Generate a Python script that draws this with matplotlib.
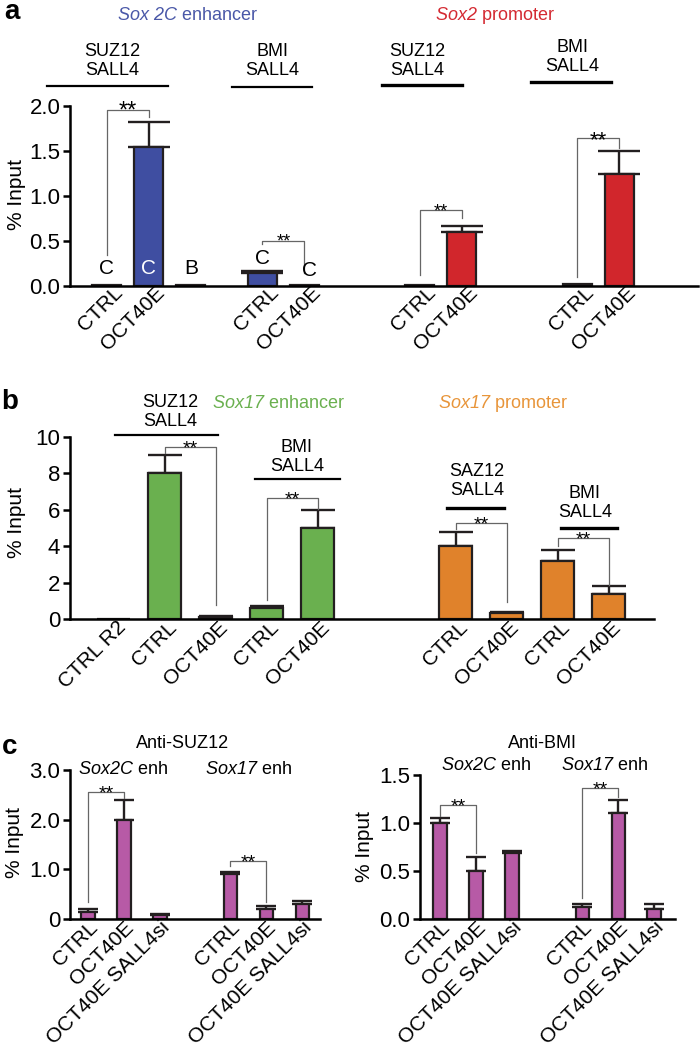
import numpy as np
import matplotlib
matplotlib.use("Agg")
import matplotlib.pyplot as plt
from matplotlib.lines import Line2D

plt.rcParams['font.family'] = ['Liberation Sans', 'DejaVu Sans']
# math text is only used for the italic gene names, so make "rm" italic (digits too)
plt.rcParams['mathtext.fontset'] = 'custom'
plt.rcParams['mathtext.rm'] = 'Liberation Sans:italic'
plt.rcParams['mathtext.it'] = 'Liberation Sans:italic'
plt.rcParams['mathtext.default'] = 'rm'

# ---- data ----
# panel a: Sox2C enhancer (SUZ12, BMI) + Sox2 promoter (SUZ12, BMI)
a_labels = ["CTRL", "OCT40E", "", "CTRL", "OCT40E", "CTRL", "OCT40E", "CTRL", "OCT40E"]
a_values = [0.01, 1.55, 0.01, 0.15, 0.01, 0.01, 0.60, 0.02, 1.25]
a_sem = [0.0, 0.27, 0.0, 0.02, 0.0, 0.0, 0.07, 0.0, 0.25]

# panel b: Sox17 enhancer + Sox17 promoter
b_labels = ["CTRL R2", "CTRL", "OCT40E", "CTRL", "OCT40E", "CTRL", "OCT40E", "CTRL", "OCT40E"]
b_values = [0.02, 8.0, 0.1, 0.6, 5.0, 4.0, 0.35, 3.2, 1.4]
b_sem = [0.0, 1.0, 0.05, 0.1, 1.0, 0.8, 0.05, 0.6, 0.4]

# panel c
c_labels = ["CTRL", "OCT40E", "OCT40E SALL4si", "CTRL", "OCT40E", "OCT40E SALL4si"]
c_suz12 = [0.15, 2.0, 0.08, 0.9, 0.2, 0.3]
c_suz12_sem = [0.05, 0.4, 0.02, 0.05, 0.07, 0.06]
c_bmi = [1.0, 0.5, 0.69, 0.12, 1.1, 0.1]
c_bmi_sem = [0.05, 0.15, 0.02, 0.04, 0.14, 0.06]

BLUE, RED, GREEN, ORANGE, PINK = "#3f4ea1", "#d1262c", "#6ab04f", "#e0822b", "#b75aa6"
EDGE = "#231f20"

W, H = 700, 1050
fig = plt.figure(figsize=(7, 10.5), dpi=100)


def px(x, y):
    return x / W, 1 - y / H


def add_ax(left, top, right, bottom):
    return fig.add_axes([left / W, 1 - bottom / H, (right - left) / W, (bottom - top) / H])


def group_pos(starts, sizes):
    return np.concatenate([s + np.arange(n) for s, n in zip(starts, sizes)])


def style(ax, ylim, yticks, yticklabels, xlim):
    for s in ["top", "right"]:
        ax.spines[s].set_visible(False)
    for s in ["left", "bottom"]:
        ax.spines[s].set_linewidth(1.8)
    ax.set_ylim(*ylim)
    ax.set_xlim(*xlim)
    ax.set_yticks(yticks)
    ax.set_yticklabels(yticklabels, fontsize=16)
    ax.tick_params(axis="y", length=5, width=1.8, pad=2)
    ax.set_xticks([])


def bars(ax, pos, vals, sem, colors, width, capsize, labels, fs=15, dx=0, dy=1):
    vals, sem = np.array(vals), np.array(sem)
    ax.bar(pos, vals, width, color=colors, edgecolor=EDGE, linewidth=1.6, zorder=2)
    m = sem > 0
    ax.errorbar(pos[m], vals[m], yerr=[np.zeros(m.sum()), sem[m]], fmt="none",
                ecolor=EDGE, elinewidth=1.7, capsize=capsize, capthick=1.7, zorder=1)
    # rotated category labels hanging from the x axis
    for p, lab in zip(pos, labels):
        ax.annotate(lab, (p, 0), xycoords=("data", "axes fraction"), xytext=(dx, dy),
                    textcoords="offset points", rotation=45, ha="right", va="top",
                    rotation_mode="anchor", fontsize=fs, annotation_clip=False)


def bracket(ax, x1, x2, top, b1, b2, fs=14):
    ax.plot([x1, x1, x2, x2], [b1, top, top, b2], color="#666666", lw=0.9,
            clip_on=False, zorder=3)
    ax.annotate("**", ((x1 + x2) / 2, top), xytext=(0, -0.33 * fs), textcoords="offset points",
                ha="center", va="baseline", fontsize=fs, annotation_clip=False)


def header(x1, x2, y, xt, yt, text, lw=1.6):
    fig.add_artist(Line2D([x1 / W, x2 / W], [1 - y / H, 1 - y / H], color="black", lw=lw))
    fig.text(*px(xt, yt), text, ha="center", va="center", fontsize=13, linespacing=1.15)


# ---- panel a ----
ax = add_ax(70, 106, 698, 286)
pos_a = group_pos([0, 3.7, 7.45, 11.2], [3, 2, 2, 2])
bars(ax, pos_a, a_values, a_sem, [BLUE] * 5 + [RED] * 4, 0.69, 15, a_labels, dx=4.5, dy=2.5)
style(ax, (0, 2.0), [0, 0.5, 1.0, 1.5, 2.0], ["0.0", "0.5", "1.0", "1.5", "2.0"], (-0.88, 14.07))
bracket(ax, pos_a[0], pos_a[1], 1.96, 0.34, 1.88, 17)
bracket(ax, pos_a[3], pos_a[4], 0.50, 0.47, 0.14, 13)
bracket(ax, pos_a[5], pos_a[6], 0.84, 0.12, 0.76, 13)
bracket(ax, pos_a[7], pos_a[8], 1.64, 0.10, 1.53, 16)
for i, y, t, c, dx in [(0, 0.2, "C", "black", 0), (1, 0.2, "C", "white", 0), (2, 0.2, "B", "black", 0),
                       (3, 0.31, "C", "black", 0), (4, 0.17, "C", "black", 0.13)]:
    ax.text(pos_a[i] + dx, y, t, ha="center", va="center", fontsize=15, color=c, zorder=4)

fig.text(*px(12, 12), "a", fontsize=20, fontweight="bold", ha="center", va="center")
fig.text(*px(187, 16), r"$Sox\ 2C$ enhancer", color="#4a58a8", fontsize=13, ha="center", va="center")
fig.text(*px(495, 16), r"$Sox2$ promoter", color="#d42a32", fontsize=13, ha="center", va="center")
header(47, 168, 86, 112, 61, "SUZ12\nSALL4")
header(232, 312, 87, 272, 61, "BMI\nSALL4")
header(382, 462, 85, 417, 61, "SUZ12\nSALL4", 2.4)
header(531, 611, 82, 572, 57, "BMI\nSALL4", 2.4)
fig.text(*px(17, 194), "% Input", rotation=90, fontsize=15, ha="center", va="center")

# ---- panel b ----
ax = add_ax(70, 437, 654, 619)
pos_b = group_pos([0, 6.7], [5, 4])
bars(ax, pos_b, b_values, b_sem, [GREEN] * 5 + [ORANGE] * 4, 0.65, 12, b_labels, dx=1.5, dy=1)
style(ax, (0, 10), [0, 2, 4, 6, 8, 10], ["0", "2", "4", "6", "8", "10"], (-0.86, 10.59))
bracket(ax, pos_b[1], pos_b[2], 9.45, 9.1, 0.77)
bracket(ax, pos_b[3], pos_b[4], 6.65, 1.04, 6.04)
bracket(ax, pos_b[5], pos_b[6], 5.27, 4.95, 0.93)
bracket(ax, pos_b[7], pos_b[8], 4.45, 4.0, 1.87)

fig.text(*px(10, 402), "b", fontsize=20, fontweight="bold", ha="center", va="center")
fig.text(*px(278, 403), r"$Sox17$ enhancer", color="#6ab04f", fontsize=13, ha="center", va="center")
fig.text(*px(503, 403), r"$Sox17$ promoter", color="#e8953a", fontsize=13, ha="center", va="center")
header(115, 218, 435, 170, 412, "SUZ12\nSALL4")
header(255, 340, 479, 297, 457, "BMI\nSALL4")
header(447, 504, 508, 477, 481, "SAZ12\nSALL4", 2.4)
header(561, 617, 528, 585, 503, "BMI\nSALL4", 2.4)
fig.text(*px(17, 523), "% Input", rotation=90, fontsize=15, ha="center", va="center")

# ---- panel c ----
pos_c = group_pos([0, 3.95], [3, 3])
ax = add_ax(70, 770, 320, 919)
bars(ax, pos_c, c_suz12, c_suz12_sem, PINK, 0.37, 7, c_labels, 15, 0, 1)
style(ax, (0, 3.0), [0, 1, 2, 3], ["0", "1.0", "2.0", "3.0"], (-0.5, 6.44))
bracket(ax, pos_c[0], pos_c[1], 2.56, 0.34, 2.44)
bracket(ax, pos_c[3], pos_c[4], 1.16, 1.06, 0.34)

ax = add_ax(420, 775, 675, 919)
bars(ax, pos_c, c_bmi, c_bmi_sem, PINK, 0.37, 7, c_labels, 15, 0, 1)
style(ax, (0, 1.5), [0, 0.5, 1.0, 1.5], ["0.0", "0.5", "1.0", "1.5"], (-0.56, 6.53))
bracket(ax, pos_c[0], pos_c[1], 1.19, 1.07, 0.69)
bracket(ax, pos_c[3], pos_c[4], 1.36, 0.22, 1.27)

fig.text(*px(10, 747), "c", fontsize=20, fontweight="bold", ha="center", va="center")
fig.text(*px(183, 743), "Anti-SUZ12", fontsize=13, ha="center", va="center")
fig.text(*px(123, 770), r"$Sox2C$ enh", fontsize=13, ha="center", va="center")
fig.text(*px(248, 770), r"$Sox17$ enh", fontsize=13, ha="center", va="center")
fig.text(*px(542, 743), "Anti-BMI", fontsize=13, ha="center", va="center")
fig.text(*px(486, 765), r"$Sox2C$ enh", fontsize=13, ha="center", va="center")
fig.text(*px(604, 765), r"$Sox17$ enh", fontsize=13, ha="center", va="center")
fig.text(*px(15, 843), "% Input", rotation=90, fontsize=15, ha="center", va="center")
fig.text(*px(365, 847), "% Input", rotation=90, fontsize=15, ha="center", va="center")

fig.savefig("out.png", dpi=100)
